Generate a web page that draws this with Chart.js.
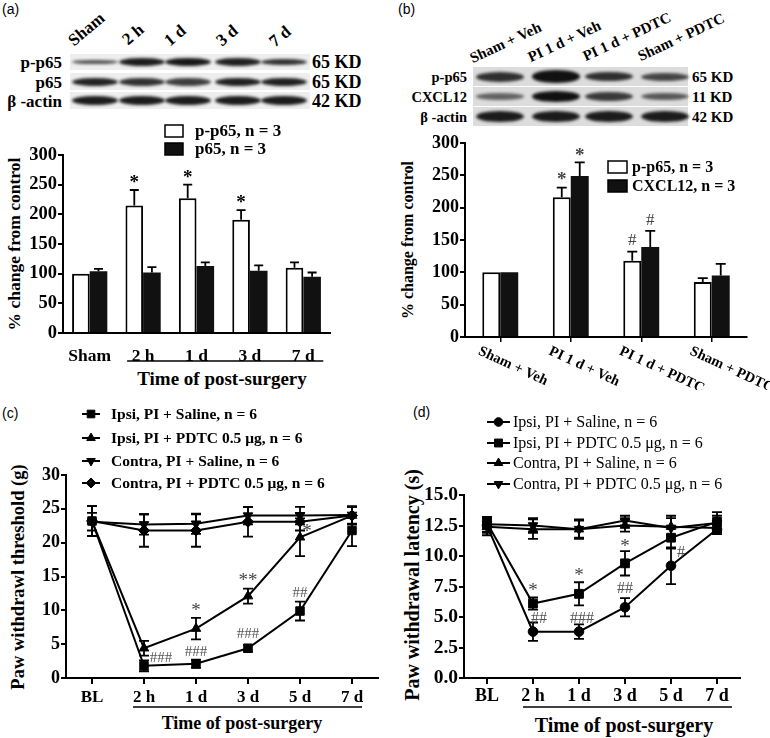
<!DOCTYPE html>
<html><head><meta charset="utf-8">
<script src="https://cdn.jsdelivr.net/npm/chart.js@4.4.1/dist/chart.umd.min.js"></script>
<style>
html,body{margin:0;padding:0;background:#fff;}
body{position:relative;width:770px;height:738px;overflow:hidden;font-family:'Liberation Serif','Times New Roman',serif;color:#000;}
.t{position:absolute;white-space:nowrap;font-weight:bold;line-height:1;}
.pl{position:absolute;font-family:'Liberation Sans',Arial,sans-serif;font-size:14px;line-height:1;white-space:nowrap;}
.rl{transform:translate(-100%,-50%);}
.ll{transform:translate(0,-50%);}
.ct{transform:translate(-50%,-50%);}
.vt{transform:translate(-50%,-50%) rotate(-90deg);}
canvas{position:absolute;}
.row{position:absolute;}
.band{position:absolute;background:#111;border-radius:50%;filter:blur(1.4px);}
</style></head>
<body>
<div class="pl" style="left:2px;top:2px">(a)</div>
<div class="pl" style="left:398px;top:2px">(b)</div>
<div class="pl" style="left:2px;top:406px">(c)</div>
<div class="pl" style="left:413px;top:405px">(d)</div>

<!-- blot (a) labels -->
<div class="t" style="left:76px;top:32px;font-size:17px;transform-origin:0 100%;transform:rotate(-40deg)">Sham</div>
<div class="t" style="left:130px;top:31px;font-size:17px;transform-origin:0 100%;transform:rotate(-40deg)">2 h</div>
<div class="t" style="left:172px;top:32px;font-size:17px;transform-origin:0 100%;transform:rotate(-40deg)">1 d</div>
<div class="t" style="left:224px;top:32px;font-size:17px;transform-origin:0 100%;transform:rotate(-40deg)">3 d</div>
<div class="t" style="left:277px;top:33px;font-size:17px;transform-origin:0 100%;transform:rotate(-40deg)">7 d</div>
<div class="t rl" style="left:62px;top:62px;font-size:17px">p-p65</div>
<div class="t rl" style="left:62px;top:82px;font-size:17px">p65</div>
<div class="t rl" style="left:62px;top:101px;font-size:17px">β -actin</div>
<div class="t ll" style="left:312px;top:62px;font-size:18px">65 KD</div>
<div class="t ll" style="left:312px;top:82px;font-size:18px">65 KD</div>
<div class="t ll" style="left:312px;top:101px;font-size:18px">42 KD</div>

<!-- blot (b) labels -->
<div class="t" style="left:474px;top:51px;font-size:15px;transform-origin:0 100%;transform:rotate(-25deg)">Sham + Veh</div>
<div class="t" style="left:532px;top:50px;font-size:15px;transform-origin:0 100%;transform:rotate(-25deg)">PI 1 d + Veh</div>
<div class="t" style="left:587px;top:49px;font-size:15px;transform-origin:0 100%;transform:rotate(-25deg)">PI 1 d + PDTC</div>
<div class="t" style="left:642px;top:49px;font-size:15px;transform-origin:0 100%;transform:rotate(-25deg)">Sham + PDTC</div>
<div class="t rl" style="left:467px;top:77px;font-size:14.5px">p-p65</div>
<div class="t rl" style="left:467px;top:97px;font-size:14.5px">CXCL12</div>
<div class="t rl" style="left:467px;top:117px;font-size:14.5px">β -actin</div>
<div class="t ll" style="left:692px;top:77px;font-size:15px">65 KD</div>
<div class="t ll" style="left:692px;top:97px;font-size:15px">11 KD</div>
<div class="t ll" style="left:692px;top:117px;font-size:15px">42 KD</div>

<!-- axis titles -->
<div class="t vt" style="left:15px;top:244px;font-size:17.5px">% change from control</div>
<div class="t vt" style="left:408px;top:240px;font-size:16px">% change from control</div>
<div class="t vt" style="left:18px;top:577px;font-size:18.5px">Paw withdrawl threshold (g)</div>
<div class="t vt" style="left:412px;top:585px;font-size:20px">Paw withdrawal latency (s)</div>
<div class="t ct" style="left:222px;top:378px;font-size:19px">Time of post-surgery</div>
<div class="t ct" style="left:242px;top:723px;font-size:18px">Time of post-surgery</div>
<div class="t ct" style="left:624px;top:725px;font-size:20px">Time of post-surgery</div>

<canvas id="cA" width="385" height="275" style="left:0;top:115px"></canvas>
<canvas id="cB" width="385" height="265" style="left:385px;top:125px"></canvas>
<canvas id="cC" width="385" height="343" style="left:0;top:395px"></canvas>
<canvas id="cD" width="385" height="343" style="left:385px;top:395px"></canvas>

<script>
// ---------------- DATA ----------------
// Panel (a)
const catsA = ['Sham', '2 h', '1 d', '3 d', '7 d'];
const pp65A = [100, 215, 227, 191, 110];
const pp65ErrA = [0, 26, 23, 16, 9];
const p65A = [104, 102, 113, 105, 95];
const p65ErrA = [4, 9, 6, 9, 7];
const sigA = ['', '*', '*', '*', ''];
const ticksA = [0, 50, 100, 150, 200, 250, 300];
const blotA_pp65 = [0.7, 0.95, 0.97, 0.93, 0.85];
const blotA_p65 = [0.92, 0.85, 0.8, 0.93, 0.93];
const blotA_actin = [0.95, 0.95, 0.95, 0.95, 0.95];

// Panel (b)
const catsB = ['Sham + Veh', 'PI 1 d + Veh', 'PI 1 d + PDTC', 'Sham + PDTC'];
const pp65B = [100, 216, 118, 85];
const pp65ErrB = [0, 15, 14, 6];
const cxcl12B = [100, 249, 139, 95];
const cxcl12ErrB = [0, 21, 25, 18];
const sigB_pp65 = ['', '*', '#', ''];
const sigB_cxcl12 = ['', '*', '#', ''];
const blotB_pp65 = [0.85, 1.0, 0.85, 0.75];
const blotB_cxcl12 = [0.6, 1.0, 0.8, 0.65];
const blotB_actin = [0.95, 0.95, 0.95, 0.95];

// Panels (c) and (d)
const catsCD = ['BL', '2 h', '1 d', '3 d', '5 d', '7 d'];
const ipsiSalC = [23.2, 1.8, 2.1, 4.4, 9.9, 21.8];
const ipsiSalErrC = [2.2, 0.8, 0.6, 0.5, 1.4, 2.3];
const ipsiPdtcC = [23.2, 4.4, 7.3, 12.1, 20.8, 24.0];
const ipsiPdtcErrC = [2.2, 1.1, 1.6, 1.1, 2.8, 1.3];
const contraSalC = [23.1, 22.7, 22.8, 24.0, 24.0, 24.1];
const contraSalErrC = [1.3, 1.5, 1.5, 1.3, 1.3, 1.3];
const contraPdtcC = [23.2, 21.8, 21.8, 23.1, 23.1, 24.0];
const contraPdtcErrC = [2.2, 2.4, 2.4, 2.2, 1.3, 1.3];
const sigIpsiSalC = ['', '###', '###', '###', '##', ''];
const sigIpsiPdtcC = ['', '', '*', '**', '*', ''];

const ipsiSalD = [12.5, 3.8, 3.8, 5.8, 9.2, 12.2];
const ipsiSalErrD = [0.6, 0.75, 0.6, 0.75, 1.5, 0.3];
const ipsiPdtcD = [12.7, 6.1, 6.9, 9.4, 11.5, 12.8];
const ipsiPdtcErrD = [0.5, 0.5, 0.95, 1.0, 0.9, 0.8];
const contraSalD = [12.4, 12.2, 12.2, 12.5, 12.4, 12.3];
const contraSalErrD = [0.7, 0.8, 0.7, 0.5, 0.7, 0.5];
const contraPdtcD = [12.6, 12.5, 12.2, 12.9, 12.3, 12.7];
const contraPdtcErrD = [0.6, 0.6, 0.8, 0.4, 1.0, 0.6];
const sigIpsiSalD = ['', '##', '###', '##', '#', ''];
const sigIpsiPdtcD = ['', '*', '*', '*', '', ''];

// ---------------- BLOTS ----------------
function blot(rows, centers, w, x0, x1, bg) {
  rows.forEach(r => {
    const row = document.createElement('div');
    row.className = 'row';
    Object.assign(row.style, {left: x0 + 'px', top: r.y + 'px', width: (x1 - x0) + 'px', height: r.h + 'px', background: bg});
    document.body.appendChild(row);
    r.vals.forEach((v, i) => {
      const b = document.createElement('div');
      b.className = 'band';
      const h = r.bh * (r.hs ? r.hs[i] : 1);
      Object.assign(b.style, {left: (centers[i] - w / 2) + 'px', top: (r.y + r.h / 2 - h / 2) + 'px', width: w + 'px', height: h + 'px', opacity: v});
      document.body.appendChild(b);
    });
  });
}
blot([
  {y: 54, h: 16, bh: 8, vals: blotA_pp65, hs: [0.6, 1, 1, 1, 0.85]},
  {y: 73, h: 17, bh: 8, vals: blotA_p65},
  {y: 92, h: 17, bh: 9, vals: blotA_actin}
], [95, 142, 188, 238, 284], 46, 70, 310, '#eeeeee');
blot([
  {y: 67, h: 19, bh: 10, vals: blotB_pp65, hs: [1, 1.25, 0.9, 0.8]},
  {y: 87, h: 19, bh: 9, vals: blotB_cxcl12, hs: [0.7, 1.2, 1, 0.8]},
  {y: 107, h: 19, bh: 11, vals: blotB_actin}
], [500, 556, 609, 665], 48, 473, 688, '#dcdcdc');

// ---------------- CHART HELPERS ----------------
const F = "'Liberation Serif','Times New Roman',serif";
Chart.defaults.font.family = F;
Chart.defaults.font.weight = 'bold';
Chart.defaults.color = '#000';
Chart.defaults.animation = false;

function drawErr(chart, mode) {
  const ctx = chart.ctx, ys = chart.scales.y;
  chart.data.datasets.forEach((ds, di) => {
    if (!ds.errors) return;
    const meta = chart.getDatasetMeta(di);
    meta.data.forEach((el, i) => {
      const e = ds.errors[i];
      if (!e) return;
      const v = ds.data[i], x = el.x;
      const yT = ys.getPixelForValue(v + e);
      const yB = mode === 'both' ? ys.getPixelForValue(v - e) : el.y;
      const cw = ds.capHalf || 4.5;
      ctx.save();
      ctx.strokeStyle = '#000';
      ctx.lineWidth = ds.errWidth || 1.8;
      ctx.beginPath();
      ctx.moveTo(x, yT); ctx.lineTo(x, yB);
      ctx.moveTo(x - cw, yT); ctx.lineTo(x + cw, yT);
      if (mode === 'both') { ctx.moveTo(x - cw, yB); ctx.lineTo(x + cw, yB); }
      ctx.stroke();
      ctx.restore();
    });
  });
}
const errPlugin = {
  id: 'errbars',
  beforeDatasetsDraw(chart) { if (chart.config.type === 'line') drawErr(chart, 'both'); },
  afterDatasetsDraw(chart) { if (chart.config.type === 'bar') drawErr(chart, 'up'); }
};
const annotPlugin = {
  id: 'annot',
  afterDatasetsDraw(chart, args, opts) {
    const items = (opts && opts.items) || [];
    const ctx = chart.ctx, ys = chart.scales.y;
    items.forEach(it => {
      if (!it.text) return;
      const ds = chart.data.datasets[it.ds];
      const el = chart.getDatasetMeta(it.ds).data[it.i];
      const top = ys.getPixelForValue(ds.data[it.i] + (ds.errors ? ds.errors[it.i] : 0));
      const cx = el.x + (it.dx || 0), cy = top + (it.dy || 0);
      const fs = it.size || 16;
      ctx.save();
      ctx.font = (it.weight || 'normal') + ' ' + fs + 'px ' + F;
      ctx.fillStyle = it.color || '#000';
      ctx.textAlign = 'center';
      ctx.textBaseline = 'alphabetic';
      const k = it.text[0] === '*' ? 0.47 : 0.34;
      ctx.fillText(it.text, cx, cy + k * fs);
      ctx.restore();
    });
  }
};
Chart.register(errPlugin, annotPlugin);

function sigItems(dsIndex, sigs, offs, style) {
  return sigs.map((t, i) => Object.assign({ds: dsIndex, i: i, text: t}, style, offs[i] || {}));
}
function fix(w, h) { return s => { if (w != null) s.width = w; if (h != null) s.height = h; }; }
function bracket(chart, i0, d0, i1, d1, dy) {
  const ctx = chart.ctx, xs = chart.scales.x;
  const y = chart.chartArea.bottom + dy;
  ctx.save(); ctx.strokeStyle = '#000'; ctx.lineWidth = 1.6;
  ctx.beginPath(); ctx.moveTo(xs.getPixelForValue(i0) + d0, y); ctx.lineTo(xs.getPixelForValue(i1) + d1, y); ctx.stroke();
  ctx.restore();
}
function boxLegend(ctx, items, bx, bw, bh, tx, fs) {
  ctx.save();
  items.forEach(it => {
    ctx.fillStyle = it.fill; ctx.strokeStyle = '#000'; ctx.lineWidth = 1.5;
    ctx.fillRect(bx, it.y - bh / 2, bw, bh);
    ctx.strokeRect(bx, it.y - bh / 2, bw, bh);
    ctx.fillStyle = '#000';
    ctx.font = 'bold ' + fs + 'px ' + F;
    ctx.textBaseline = 'middle'; ctx.textAlign = 'left';
    ctx.fillText(it.label, tx, it.y + 1);
  });
  ctx.restore();
}
function lineLegend(chart, ys, x0, x1, tx, font) {
  const ctx = chart.ctx;
  ctx.save();
  chart.data.datasets.forEach((ds, i) => {
    const y = ys[i];
    ctx.strokeStyle = '#000'; ctx.fillStyle = '#000'; ctx.lineWidth = 2;
    ctx.beginPath(); ctx.moveTo(x0, y); ctx.lineTo(x1, y); ctx.stroke();
    ctx.lineWidth = 1;
    Chart.helpers.drawPoint(ctx, {pointStyle: ds.pointStyle, rotation: ds.pointRotation || 0, radius: ds.pointRadius * 0.9, borderWidth: 1}, (x0 + x1) / 2, y);
    ctx.font = font; ctx.textBaseline = 'middle'; ctx.textAlign = 'left';
    ctx.fillText(ds.label, tx, y + 1);
  });
  ctx.restore();
}
const axisCommon = {
  border: {display: true, color: '#000', width: 2},
};

// ---------------- CHART A ----------------
new Chart(document.getElementById('cA'), {
  type: 'bar',
  data: {
    labels: catsA,
    datasets: [
      {label: 'p-p65, n = 3', data: pp65A, errors: pp65ErrA, backgroundColor: '#fff', borderColor: '#000', borderWidth: 2, categoryPercentage: 0.66, barPercentage: 1},
      {label: 'p65, n = 3', data: p65A, errors: p65ErrA, backgroundColor: '#111', borderColor: '#111', borderWidth: 0, categoryPercentage: 0.66, barPercentage: 1}
    ]
  },
  options: {
    responsive: false,
    layout: {padding: {top: 40, right: 55, left: 0, bottom: 0}},
    plugins: {
      legend: {display: false}, tooltip: {enabled: false},
      annot: {items: sigItems(0, sigA, [], {dy: -11, size: 19, weight: 'bold'})}
    },
    scales: {
      x: Object.assign({}, axisCommon, {grid: {display: false}, ticks: {font: {size: 17.5, weight: 'bold'}, padding: 5, maxRotation: 0, autoSkip: false}, afterFit: fix(null, 57)}),
      y: Object.assign({}, axisCommon, {min: 0, max: 300, afterBuildTicks: s => { s.ticks = ticksA.map(v => ({value: v})); },
        grid: {drawOnChartArea: false, drawTicks: true, tickLength: 5, color: '#000', lineWidth: 2},
        ticks: {font: {size: 18.5, weight: 'bold'}, padding: 1}, afterFit: fix(63, null)})
    }
  },
  plugins: [{
    id: 'decA',
    afterDraw(chart) {
      bracket(chart, 1, -16, 4, 20, 28);
      boxLegend(chart.ctx, [{fill: '#fff', label: chart.data.datasets[0].label, y: 16}, {fill: '#111', label: chart.data.datasets[1].label, y: 34}], 165, 18, 12, 195, 17);
    }
  }]
});

// ---------------- CHART B ----------------
new Chart(document.getElementById('cB'), {
  type: 'bar',
  data: {
    labels: catsB,
    datasets: [
      {label: 'p-p65, n = 3', data: pp65B, errors: pp65ErrB, backgroundColor: '#fff', borderColor: '#000', borderWidth: 2, categoryPercentage: 0.51, barPercentage: 1, capHalf: 5},
      {label: 'CXCL12, n = 3', data: cxcl12B, errors: cxcl12ErrB, backgroundColor: '#111', borderColor: '#111', borderWidth: 0, categoryPercentage: 0.51, barPercentage: 1, capHalf: 5}
    ]
  },
  options: {
    responsive: false,
    layout: {padding: {top: 18, right: 23, left: 0, bottom: 0}},
    plugins: {
      legend: {display: false}, tooltip: {enabled: false},
      annot: {items: sigItems(0, sigB_pp65, [null, {dy: -12, size: 19, weight: 'bold'}], {dy: -12, size: 17, color: '#444'})
        .concat(sigItems(1, sigB_cxcl12, [null, {dy: -10, size: 19, weight: 'bold'}], {dy: -12, size: 17, color: '#444'}))}
    },
    scales: {
      x: Object.assign({}, axisCommon, {grid: {display: true, offset: false, drawOnChartArea: false, drawTicks: true, tickLength: 5, color: '#000', lineWidth: 1.5}, ticks: {display: false}, afterFit: fix(null, 53)}),
      y: Object.assign({}, axisCommon, {min: 0, max: 300, afterBuildTicks: s => { s.ticks = ticksA.map(v => ({value: v})); },
        grid: {drawOnChartArea: false, drawTicks: true, tickLength: 5, color: '#000', lineWidth: 2},
        ticks: {font: {size: 18, weight: 'bold'}, padding: 1}, afterFit: fix(80, null)})
    }
  },
  plugins: [{
    id: 'decB',
    afterDraw(chart) {
      const ctx = chart.ctx, xs = chart.scales.x;
      ctx.save();
      ctx.font = 'bold 14.5px ' + F; ctx.fillStyle = '#000';
      ctx.textAlign = 'left'; ctx.textBaseline = 'top';
      catsB.forEach((c, i) => {
        ctx.save();
        ctx.translate(xs.getPixelForValue(i) - 18, chart.chartArea.bottom + 7);
        ctx.rotate(25 * Math.PI / 180);
        ctx.fillText(c, 0, 0);
        ctx.restore();
      });
      ctx.restore();
      boxLegend(ctx, [{fill: '#fff', label: chart.data.datasets[0].label, y: 42}, {fill: '#111', label: chart.data.datasets[1].label, y: 61}], 223, 19, 12, 247, 16);
    }
  }]
});

// ---------------- CHART C ----------------
function lineDs(label, data, errors, style, rot, r) {
  return {label: label, data: data, errors: errors, pointStyle: style, pointRotation: rot || 0, pointRadius: r, pointBorderWidth: 1,
    borderColor: '#000', backgroundColor: '#000', pointBackgroundColor: '#000', borderWidth: 2, tension: 0, capHalf: 5, errWidth: 1.8};
}
new Chart(document.getElementById('cC'), {
  type: 'line',
  data: {
    labels: catsCD,
    datasets: [
      lineDs('Ipsi, PI + Saline, n = 6', ipsiSalC, ipsiSalErrC, 'rect', 0, 6),
      lineDs('Ipsi, PI + PDTC 0.5 μg, n = 6', ipsiPdtcC, ipsiPdtcErrC, 'triangle', 0, 5.5),
      lineDs('Contra, PI + Saline, n = 6', contraSalC, contraSalErrC, 'triangle', 180, 5.5),
      lineDs('Contra, PI + PDTC 0.5 μg, n = 6', contraPdtcC, contraPdtcErrC, 'rectRot', 0, 5.5)
    ]
  },
  options: {
    responsive: false,
    layout: {padding: {top: 80, right: 7, left: 0, bottom: 0}},
    plugins: {
      legend: {display: false}, tooltip: {enabled: false},
      annot: {items: sigItems(0, sigIpsiSalC, [null, {dx: 17, dy: -4}, {dy: -9}, {dy: -12}, {dy: -9.5}], {size: 15, color: '#555'})
        .concat(sigItems(1, sigIpsiPdtcC, [null, null, {dy: -11}, {dy: -12}, {dx: 7, dy: 10}], {size: 19, color: '#444'}))}
    },
    scales: {
      x: Object.assign({}, axisCommon, {offset: true, grid: {display: true, offset: false, drawOnChartArea: false, drawTicks: true, tickLength: 6, color: '#000', lineWidth: 2},
        ticks: {font: {size: 17, weight: 'bold'}, padding: 3, maxRotation: 0, autoSkip: false}, afterFit: fix(null, 60)}),
      y: Object.assign({}, axisCommon, {min: 0, max: 30, ticks: {stepSize: 5, font: {size: 18, weight: 'bold'}, padding: 1},
        grid: {drawOnChartArea: false, drawTicks: true, tickLength: 5, color: '#000', lineWidth: 2}, afterFit: fix(66, null)})
    }
  },
  plugins: [{
    id: 'decC',
    afterDraw(chart) {
      bracket(chart, 1, -11, 5, 10, 29);
      lineLegend(chart, [19, 43, 66, 88], 82, 100, 111, 'bold 15.5px ' + F);
    }
  }]
});

// ---------------- CHART D ----------------
new Chart(document.getElementById('cD'), {
  type: 'line',
  data: {
    labels: catsCD,
    datasets: [
      lineDs('Ipsi, PI + Saline, n = 6', ipsiSalD, ipsiSalErrD, 'circle', 0, 4.8),
      lineDs('Ipsi, PI + PDTC 0.5 μg, n = 6', ipsiPdtcD, ipsiPdtcErrD, 'rect', 0, 6.2),
      lineDs('Contra, PI + Saline, n = 6', contraSalD, contraSalErrD, 'triangle', 0, 5.5),
      lineDs('Contra, PI + PDTC 0.5 μg, n = 6', contraPdtcD, contraPdtcErrD, 'triangle', 180, 5.5)
    ]
  },
  options: {
    responsive: false,
    layout: {padding: {top: 100, right: 30, left: 0, bottom: 0}},
    plugins: {
      legend: {display: false}, tooltip: {enabled: false},
      annot: {items: sigItems(0, sigIpsiSalD, [null, {dx: 6, dy: -5}, {dx: 3, dy: -7}, {dy: -11}, {dx: 10, dy: 4}], {size: 16, color: '#555'})
        .concat(sigItems(1, sigIpsiPdtcD, [null, {dy: -10}, {dy: -10}, {dy: -8}], {size: 19, color: '#444'}))}
    },
    scales: {
      x: Object.assign({}, axisCommon, {offset: true, grid: {display: true, offset: false, drawOnChartArea: false, drawTicks: true, tickLength: 6, color: '#000', lineWidth: 2},
        ticks: {font: {size: 18, weight: 'bold'}, padding: 2, maxRotation: 0, autoSkip: false}, afterFit: fix(null, 60)}),
      y: Object.assign({}, axisCommon, {min: 0, max: 15, ticks: {stepSize: 2.5, font: {size: 19.5, weight: 'bold'}, padding: 1, callback: v => Number(v).toFixed(1)},
        grid: {drawOnChartArea: false, drawTicks: true, tickLength: 5, color: '#000', lineWidth: 2}, afterFit: fix(79, null)})
    }
  },
  plugins: [{
    id: 'decD',
    afterDraw(chart) {
      bracket(chart, 1, -10, 5, 15, 29);
      lineLegend(chart, [27, 48, 68, 89], 102, 125, 128, 'normal 16px ' + F);
    }
  }]
});
</script>
</body></html>
